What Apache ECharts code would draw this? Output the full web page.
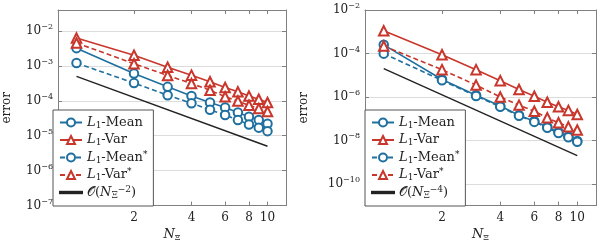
<!DOCTYPE html>
<html><head><meta charset="utf-8">
<script src="https://cdn.jsdelivr.net/npm/echarts@6/dist/echarts.min.js"></script>
<style>html,body{margin:0;padding:0;background:#fff}#c{width:597px;height:247px}</style>
</head><body><div id="c"></div>
<script>
const N = [1,2,3,4,5,6,7,8,9,10];
const xTicks = [2,4,6,8,10];
// left chart
const L_mean  = [3.2e-3,6.0e-4,2.5e-4,1.36e-4,8.9e-5,6.4e-5,4.6e-5,3.5e-5,2.8e-5,2.2e-5];
const L_var   = [6.2e-3,2.0e-3,9.1e-4,5.4e-4,3.5e-4,2.4e-4,1.8e-4,1.36e-4,1.1e-4,8.9e-5];
const L_meanS = [1.2e-3,3.2e-4,1.44e-4,8.5e-5,5.5e-5,3.9e-5,2.8e-5,2.1e-5,1.7e-5,1.35e-5];
const L_varS  = [4.5e-3,1.15e-3,5.3e-4,3.1e-4,2.0e-4,1.3e-4,9.8e-5,7.4e-5,6.0e-5,4.9e-5];
const L_refN = [1,10];
const L_ref  = [5e-4,5e-6];
const L_yTicks = [1e-7,1e-6,1e-5,1e-4,1e-3,1e-2];
// right chart
const R_mean  = [2.5e-4,6.3e-6,1.2e-6,3.8e-7,1.45e-7,7.7e-8,4.1e-8,2.4e-8,1.5e-8,9.3e-9];
const R_var   = [1.1e-3,8.7e-5,1.8e-5,5.6e-6,2.2e-6,1.08e-6,5.7e-7,3.5e-7,2.4e-7,1.56e-7];
const R_meanS = [9.8e-5,5.8e-6,1.1e-6,3.5e-7,1.35e-7,7.1e-8,3.8e-8,2.2e-8,1.4e-8,8.6e-9];
const R_varS  = [2.2e-4,1.8e-5,3.5e-6,1.0e-6,4.2e-7,2.2e-7,1.1e-7,6.5e-8,4.2e-8,3.0e-8];
const R_refN = [1,10];
const R_ref  = [2e-5,2e-9];
const R_yTicks = [1e-10,1e-8,1e-6,1e-4,1e-2];

const BLUE = '#1f6f9f', RED = '#c8362c', BLACK = '#222', AX = '#808080';
const SERIF = '"DejaVu Serif","Liberation Serif",serif';
const zip = (a,b)=>a.map((v,i)=>[v,b[i]]);

function yFmt(v){ const e = Math.round(Math.log10(v)); return '{b|10}{s|' + (e<0?'\u2212'+(-e):e) + '}'; }
const yRich = { b:{fontFamily:SERIF,fontSize:12,color:'#222'}, s:{fontFamily:SERIF,fontSize:8,color:'#222',verticalAlign:'top',padding:[0,0,8,0]} };

function xAxes(gi){
  const base = {type:'log', gridIndex:gi, min:0.8, max:12.5, logBase:10,
    axisLine:{show:true,lineStyle:{color:AX,width:1}},
    splitLine:{show:false}, minorTick:{show:false}};
  return [
    Object.assign({}, base, {position:'bottom',
      name:'{i|N}{sub|\u039E}', nameLocation:'middle', nameGap:20,
      nameTextStyle:{rich:{i:{fontFamily:SERIF,fontStyle:'italic',fontSize:13,color:'#222'},sub:{fontFamily:SERIF,fontSize:8,color:'#222',verticalAlign:'bottom',padding:[6,0,0,0]}}},
      axisTick:{show:true,inside:true,length:4,lineStyle:{color:AX},customValues:xTicks},
      axisLabel:{show:true,margin:6,fontFamily:SERIF,fontSize:12,color:'#222',customValues:xTicks}}),
    Object.assign({}, base, {position:'top',
      axisTick:{show:true,inside:true,length:4,lineStyle:{color:AX},customValues:xTicks},
      axisLabel:{show:false}})
  ];
}
function yAxes(gi, ymin, ymax, ticks, gap){
  const base = {type:'log', gridIndex:gi, min:ymin, max:ymax, logBase:10,
    axisLine:{show:true,lineStyle:{color:AX,width:1}}, minorTick:{show:false}};
  return [
    Object.assign({}, base, {position:'left',
      name:'error', nameLocation:'middle', nameGap:gap, nameRotate:90,
      nameTextStyle:{fontFamily:SERIF,fontSize:12,color:'#222'},
      splitLine:{show:true,lineStyle:{color:'#dcdcdc',width:1}},
      axisTick:{show:true,inside:true,length:4,lineStyle:{color:AX},customValues:ticks},
      axisLabel:{show:true,margin:5,formatter:yFmt,rich:yRich,customValues:ticks}}),
    Object.assign({}, base, {position:'right', splitLine:{show:false},
      axisTick:{show:true,inside:true,length:4,lineStyle:{color:AX},customValues:ticks},
      axisLabel:{show:false}})
  ];
}
function mk(name, data, color, dashed, sym, gi, symSize){
  return {name, type:'line', xAxisIndex:gi*2, yAxisIndex:gi*2, data, symbol:sym, symbolSize:symSize,
    showAllSymbol:true, animation:false,
    lineStyle:{color, width:1.6, type: dashed?[5,3]:'solid'},
    itemStyle:{color, borderColor:color, borderWidth:1.5}, z: 3};
}
const series = [
  mk('L1-Mean', zip(N,L_mean), BLUE,false,'emptyCircle',0,8.5),
  mk('L1-Var', zip(N,L_var), RED,false,'emptyTriangle',0,9.5),
  mk('L1-Mean*', zip(N,L_meanS), BLUE,true,'emptyCircle',0,8.5),
  mk('L1-Var*', zip(N,L_varS), RED,true,'emptyTriangle',0,9.5),
  Object.assign(mk('ref2', zip(L_refN,L_ref), BLACK,false,'none',0,0), {lineStyle:{color:BLACK,width:1.4}}),
  mk('L1-Mean', zip(N,R_mean), BLUE,false,'emptyCircle',1,8.5),
  mk('L1-Var', zip(N,R_var), RED,false,'emptyTriangle',1,9.5),
  mk('L1-Mean*', zip(N,R_meanS), BLUE,true,'emptyCircle',1,8.5),
  mk('L1-Var*', zip(N,R_varS), RED,true,'emptyTriangle',1,9.5),
  Object.assign(mk('ref4', zip(R_refN,R_ref), BLACK,false,'none',1,0), {lineStyle:{color:BLACK,width:1.4}})
];
const legRich = {
  i:{fontFamily:SERIF,fontStyle:'italic',fontSize:13,lineHeight:15,color:'#222'},
  t:{fontFamily:SERIF,fontSize:13,lineHeight:15,color:'#222'},
  sub:{fontFamily:SERIF,fontSize:9,lineHeight:9,color:'#222',verticalAlign:'bottom',padding:[6,0,0,0]},
  sup:{fontFamily:SERIF,fontSize:9,lineHeight:9,color:'#222',verticalAlign:'top',padding:[0,0,6,0]}
};
function legFmt(n){
  if(n==='ref2') return '{t|\uD835\uDCAA(}{i|N}{sub|\u039E}{sup|\u22122}{t|)}';
  if(n==='ref4') return '{t|\uD835\uDCAA(}{i|N}{sub|\u039E}{sup|\u22124}{t|)}';
  const star = n.endsWith('*');
  const body = n.replace('L1','').replace('*','');
  return '{i|L}{sub|1}{t|' + body + '}' + (star?'{sup|*}':'');
}
const LINE_ICON = 'path://M0,0M0,4.3H22V5.7H0ZM22,10';
function legend(left, refName){
  return {orient:'vertical', left, bottom:41,
    data:['L1-Mean','L1-Var','L1-Mean*','L1-Var*',{name:refName, icon:LINE_ICON}],
    itemWidth:22, itemHeight:10, itemGap:2.5, padding:[5,6,6,6],
    backgroundColor:'#fff', borderColor:'#555', borderWidth:1, borderRadius:0,
    selectedMode:false, formatter:legFmt, textStyle:{rich:legRich}, z:10};
}
const chart = echarts.init(document.getElementById('c'), null, {renderer:'canvas'});
chart.setOption({
  animation:false,
  backgroundColor:'#fff',
  grid:[{left:53,top:10,width:233,height:196},{left:365,top:10,width:231,height:196}],
  xAxis:[...xAxes(0), ...xAxes(1)],
  yAxis:[...yAxes(0,1e-7,0.0395,L_yTicks,45), ...yAxes(1,1e-11,1e-2,R_yTicks,55)],
  legend:[legend(53,'ref2'), legend(365,'ref4')],
  series
});
</script></body></html>
